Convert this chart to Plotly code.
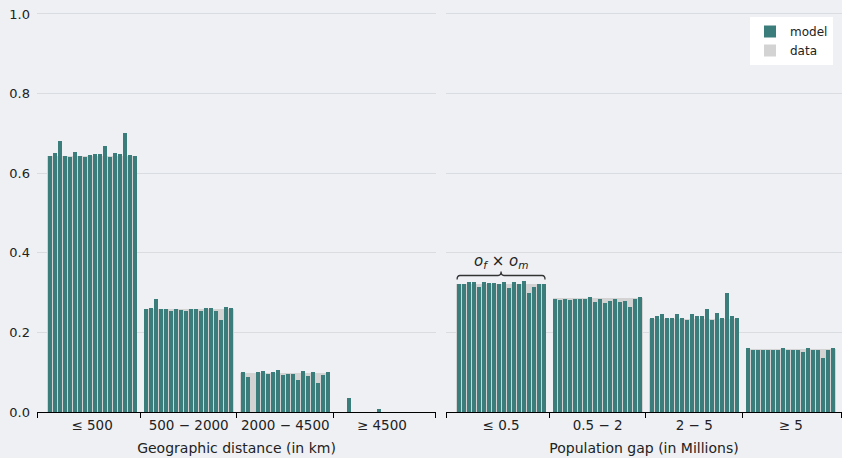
import plotly.graph_objects as go

# ---------------- data ----------------
geo_groups = ["≤ 500", "500 − 2000", "2000 − 4500", "≥ 4500"]
pop_groups = ["≤ 0.5", "0.5 − 2", "2 − 5", "≥ 5"]

# model values: 18 bars (o_f x o_m combinations) per group
model_geo_le500 = [0.643, 0.650, 0.681, 0.643, 0.640, 0.653, 0.643, 0.640, 0.646,
                   0.648, 0.648, 0.668, 0.640, 0.651, 0.648, 0.700, 0.646, 0.643]
model_geo_500_2000 = [0.259, 0.261, 0.285, 0.259, 0.259, 0.255, 0.259, 0.256, 0.254,
                      0.259, 0.259, 0.255, 0.261, 0.261, 0.255, 0.230, 0.265, 0.261]
model_geo_2000_4500 = [0.100, 0.089, 0.000, 0.100, 0.102, 0.095, 0.100, 0.105, 0.092,
                       0.095, 0.095, 0.080, 0.102, 0.090, 0.100, 0.072, 0.092, 0.100]
model_geo_ge4500 = [0.000, 0.000, 0.036, 0.000, 0.000, 0.000, 0.000, 0.000, 0.008,
                    0.000, 0.000, 0.000, 0.000, 0.000, 0.000, 0.000, 0.000, 0.000]

model_pop_le05 = [0.322, 0.322, 0.326, 0.326, 0.315, 0.326, 0.323, 0.323, 0.321,
                  0.326, 0.312, 0.326, 0.321, 0.328, 0.300, 0.315, 0.322, 0.322]
model_pop_05_2 = [0.285, 0.281, 0.285, 0.281, 0.285, 0.285, 0.285, 0.288, 0.276,
                  0.285, 0.274, 0.279, 0.285, 0.276, 0.279, 0.265, 0.285, 0.288]
model_pop_2_5 = [0.235, 0.240, 0.245, 0.237, 0.235, 0.245, 0.235, 0.230, 0.245,
                 0.240, 0.242, 0.260, 0.230, 0.248, 0.237, 0.300, 0.242, 0.235]
model_pop_ge5 = [0.160, 0.157, 0.155, 0.157, 0.157, 0.155, 0.157, 0.160, 0.157,
                 0.157, 0.157, 0.150, 0.162, 0.157, 0.157, 0.135, 0.157, 0.160]

# observed data: one value per group
data_geo = [0.642, 0.259, 0.098, 0.0]
data_pop = [0.321, 0.286, 0.233, 0.159]

y_ticks = [0.0, 0.2, 0.4, 0.6, 0.8, 1.0]

# ---------------- style ----------------
TEAL = "#3b7d7a"
GRAY = "#d3d3d3"
BG = "#eef0f4"
GRID = "#d9dce1"
FONT = "DejaVu Sans"

W, H = 842, 458
slot = 0.932          # width occupied by a group of bars (x units)
n_bars = 18
bw = slot / n_bars

model_geo = [model_geo_le500, model_geo_500_2000, model_geo_2000_4500, model_geo_ge4500]
model_pop = [model_pop_le05, model_pop_05_2, model_pop_2_5, model_pop_ge5]


def positions(groups):
    xs, ys = [], []
    for g, vals in enumerate(groups):
        for j, v in enumerate(vals):
            xs.append(g - slot / 2 + (j + 0.5) * bw)
            ys.append(v)
    return xs, ys


fig = go.Figure()
for panel, (models, data) in enumerate([(model_geo, data_geo), (model_pop, data_pop)]):
    xa = "x" if panel == 0 else "x2"
    ya = "y" if panel == 0 else "y2"
    fig.add_bar(x=list(range(len(data))), y=data, width=slot, marker_color=GRAY,
                marker_line_width=0, name="data", xaxis=xa, yaxis=ya,
                showlegend=(panel == 0), legendrank=2)
    xs, ys = positions(models)
    fig.add_bar(x=xs, y=ys, width=bw * 0.82, marker_color=TEAL, marker_line_width=0,
                name="model", xaxis=xa, yaxis=ya, showlegend=(panel == 0), legendrank=1)

left_dom = [37 / W, 436 / W]
right_dom = [446 / W, 1.0]
left_range = [-0.57, 3.56]
right_range = [-0.57, -0.57 + (W - 446) / 96.6]


def xaxis_cfg(dom, rng, labels, title, anchor):
    return dict(
        domain=dom, range=rng, anchor=anchor, automargin=False,
        tickmode="array", tickvals=list(range(len(labels))), ticktext=labels,
        ticks="", showgrid=False, zeroline=False,
        showline=True, linecolor="black", linewidth=1.3,
        tickfont=dict(family=FONT, size=13.5, color="#222"),
        ticklabelstandoff=1,
        minor=dict(tickmode="array", tickvals=[rng[0] + 0.001, 0.5, 1.5, 2.5, rng[1] - 0.001],
                   ticks="outside", ticklen=5, tickwidth=1.3, tickcolor="black", showgrid=False),
        title=dict(text=title, font=dict(family=FONT, size=14, color="#222"), standoff=10),
    )


fig.update_layout(
    width=W, height=H,
    margin=dict(l=0, r=0, t=10, b=46, autoexpand=False),
    paper_bgcolor=BG, plot_bgcolor=BG,
    barmode="overlay", bargap=0,
    font=dict(family=FONT, size=13, color="#222"),
    xaxis=xaxis_cfg(left_dom, left_range, geo_groups, "Geographic distance (in km)", "y"),
    xaxis2=xaxis_cfg(right_dom, right_range, pop_groups, "Population gap (in Millions)", "y2"),
    yaxis=dict(domain=[0, 1], range=[0, 1.01], anchor="x", automargin=False,
               tickmode="array", tickvals=y_ticks, tickformat=".1f",
               showgrid=True, gridcolor=GRID, gridwidth=1.2,
               zeroline=False, showline=False, ticks="",
               ticklabelstandoff=6,
               tickfont=dict(family=FONT, size=13, color="#222")),
    yaxis2=dict(domain=[0, 1], matches="y", anchor="x2", automargin=False,
                tickmode="array", tickvals=y_ticks, showticklabels=False,
                showgrid=True, gridcolor=GRID, gridwidth=1.2,
                zeroline=False, showline=False, ticks=""),
    legend=dict(x=750 / W, xanchor="left", y=(412 - 17) / 402, yanchor="top",
                bgcolor="white", bordercolor="white", borderwidth=0,
                font=dict(family=FONT, size=12, color="#222"),
                tracegroupgap=0, itemwidth=30),
    showlegend=True,
)

# brace over the first population group
fig.add_shape(type="path", xref="x2", yref="y",
              path=("M -0.455,0.333 Q -0.455,0.343 -0.425,0.343 L -0.03,0.343 "
                    "Q 0,0.343 0,0.353 Q 0,0.343 0.03,0.343 L 0.425,0.343 "
                    "Q 0.455,0.343 0.455,0.333"),
              line=dict(color="#333", width=1.3))
fig.add_annotation(x=0, y=0.377, xref="x2", yref="y", showarrow=False,
                   text="<i>o</i><sub><i>f</i></sub> × <i>o</i><sub><i>m</i></sub>",
                   font=dict(family=FONT, size=15, color="#222"))

fig.write_html("out.html", config={"displayModeBar": False},
               post_script="document.body.style.margin='0';document.body.style.overflow='hidden';")
